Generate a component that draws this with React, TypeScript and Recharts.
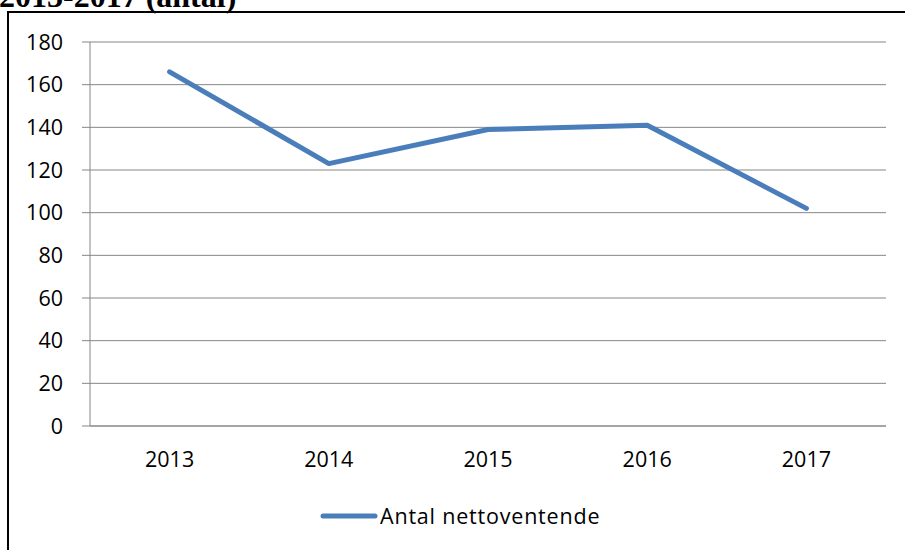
import React from "react";
import { LineChart, Line, XAxis, YAxis, CartesianGrid, Legend } from "recharts";

const years = ["2013", "2014", "2015", "2016", "2017"];
const nettoventende = [166, 123, 139, 141, 102];
const yTicks = [0, 20, 40, 60, 80, 100, 120, 140, 160, 180];
const seriesName = "Antal nettoventende";
const titleText = "2013-2017 (antal)";

const data = years.map((year, i) => ({ pos: i + 0.5, year, value: nettoventende[i] }));
const boundaryTicks = years.map((_, i) => i).concat([years.length]);
const centerTicks = years.map((_, i) => i + 0.5);

const LINE_COLOR = "#4A7EBB";
const GRID_COLOR = "#868686";
const FONT = "'Open Sans', sans-serif";
const FONT_SIZE = 21.5;

const LegendContent = (props: any) => {
  const { payload } = props;
  return (
    <div style={{ display: "flex", alignItems: "center" }}>
      {(payload || []).map((p: any) => (
        <div key={p.value} style={{ display: "flex", alignItems: "center" }}>
          <svg width={58} height={12} style={{ display: "block" }}>
            <line x1={3} x2={55} y1={6} y2={6} stroke={p.color} strokeWidth={5} strokeLinecap="round" />
          </svg>
          <span style={{ fontFamily: FONT, fontSize: FONT_SIZE, letterSpacing: 0.8, color: "#000", marginLeft: 2, lineHeight: "26px", whiteSpace: "nowrap" }}>{p.value}</span>
        </div>
      ))}
    </div>
  );
};

export default function App() {
  return (
    <div style={{ position: "absolute", left: 0, top: 0, width: 905, height: 550, overflow: "hidden", background: "#fff" }}>
      <svg width={905} height={30} style={{ position: "absolute", left: 0, top: 0 }}>
        <text x={-1} y={7} fontFamily="'Liberation Serif', serif" fontWeight="bold" fontSize={32} fill="#000">
          {titleText}
        </text>
      </svg>
      <div style={{ position: "absolute", left: 7, top: 11, width: 910, height: 550, border: "2px solid #000", boxSizing: "border-box" }} />
      <div style={{ position: "absolute", left: 0, top: 0 }}>
        <LineChart width={905} height={550} data={data} margin={{ top: 42, right: 19, left: 30, bottom: 76 }}>
          <CartesianGrid horizontal={true} vertical={false} stroke={GRID_COLOR} strokeWidth={1} />
          <XAxis
            xAxisId="grid"
            type="number"
            dataKey="pos"
            domain={[0, years.length]}
            ticks={boundaryTicks}
            tick={false}
            tickSize={8}
            height={8}
            axisLine={{ stroke: GRID_COLOR, strokeWidth: 1 }}
            tickLine={{ stroke: GRID_COLOR, strokeWidth: 1 }}
            allowDecimals={true}
          />
          <XAxis
            xAxisId="labels"
            type="number"
            dataKey="pos"
            domain={[0, years.length]}
            ticks={centerTicks}
            tickFormatter={(v: number) => years[Math.floor(v)]}
            axisLine={false}
            tickLine={false}
            tickSize={0}
            tickMargin={18}
            height={40}
            tick={{ fontFamily: FONT, fontSize: FONT_SIZE, fill: "#000" }}
            allowDecimals={true}
          />
          <YAxis
            type="number"
            domain={[0, 180]}
            ticks={yTicks}
            width={60}
            tickSize={8}
            tickMargin={19}
            axisLine={{ stroke: GRID_COLOR, strokeWidth: 1 }}
            tickLine={{ stroke: GRID_COLOR, strokeWidth: 1 }}
            tick={{ fontFamily: FONT, fontSize: FONT_SIZE, fill: "#000" }}
          />
          <Legend
            layout="horizontal"
            verticalAlign="middle"
            align="center"
            content={<LegendContent />}
            wrapperStyle={{ top: 503, left: 320, width: 340 }}
          />
          <Line
            xAxisId="grid"
            type="linear"
            dataKey="value"
            name={seriesName}
            stroke={LINE_COLOR}
            strokeWidth={5}
            strokeLinecap="round"
            strokeLinejoin="round"
            dot={false}
            activeDot={false}
            isAnimationActive={false}
          />
        </LineChart>
      </div>
    </div>
  );
}
